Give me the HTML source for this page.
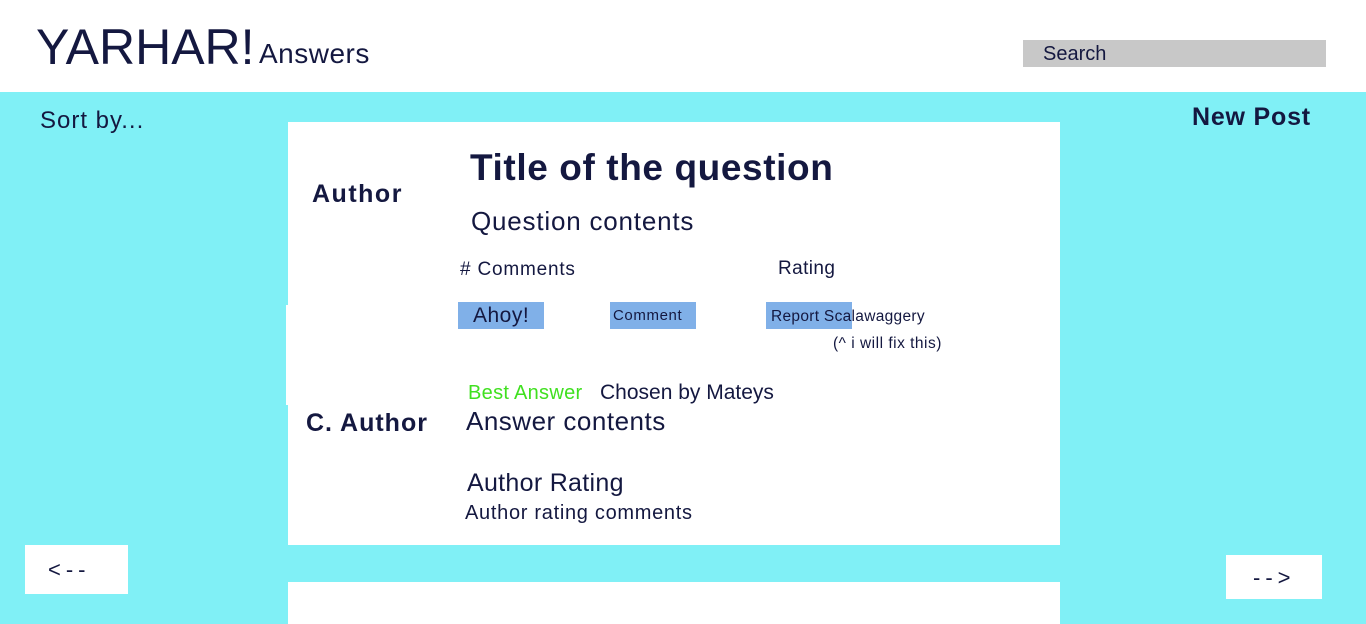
<!DOCTYPE html>
<html><head><style>
*{margin:0;padding:0}
body{width:1366px;height:624px;position:relative;overflow:hidden;background:#fff;font-family:"Liberation Sans",sans-serif;color:#141840}
div,span{position:absolute;white-space:nowrap}
.b{font-weight:bold}
</style></head><body>
<div style="left:0;top:92px;width:1366px;height:532px;background:#80f0f6"></div>
<div style="left:36px;top:18px;font-size:50px;line-height:58px">YARHAR!</div>
<div style="left:259px;top:37px;font-size:28px;line-height:34px;letter-spacing:0.5px">Answers</div>
<div style="left:1023px;top:40px;width:303px;height:27px;background:#c8c8c8"></div>
<div style="left:1043px;top:42px;font-size:20px;line-height:24px">Search</div>
<div style="left:40px;top:106px;font-size:24px;line-height:30px;letter-spacing:1px">Sort by...</div>
<div class="b" style="left:1192px;top:102px;font-size:25px;line-height:30px;letter-spacing:0.8px">New Post</div>
<div style="left:288px;top:122px;width:772px;height:423px;background:#fff"></div>
<div style="left:286px;top:305px;width:4px;height:100px;background:#fff"></div>
<div style="left:288px;top:582px;width:772px;height:42px;background:#fff"></div>
<div class="b" style="left:312px;top:179px;font-size:25px;line-height:30px;letter-spacing:1.5px">Author</div>
<div class="b" style="left:470px;top:147px;font-size:37px;line-height:42px;letter-spacing:0.6px">Title of the question</div>
<div style="left:471px;top:205px;font-size:26px;line-height:32px;letter-spacing:0.8px">Question contents</div>
<div style="left:460px;top:258px;font-size:19px;line-height:24px;letter-spacing:0.8px"># Comments</div>
<div style="left:778px;top:257px;font-size:19px;line-height:24px;letter-spacing:0.4px">Rating</div>
<div style="left:458px;top:302px;width:86px;height:27px;background:#80b0e8"></div>
<div style="left:473px;top:302px;font-size:21px;line-height:27px;letter-spacing:0.5px">Ahoy!</div>
<div style="left:610px;top:302px;width:86px;height:27px;background:#80b0e8"></div>
<div style="left:613px;top:306px;font-size:15px;line-height:20px;letter-spacing:0.6px">Comment</div>
<div style="left:766px;top:302px;width:86px;height:27px;background:#80b0e8"></div>
<div style="left:771px;top:307px;font-size:15.5px;line-height:20px;letter-spacing:0.3px">Report Scalawaggery</div>
<div style="left:833px;top:334px;font-size:15.5px;line-height:20px;letter-spacing:0.5px">(^ i will fix this)</div>
<div style="left:468px;top:380px;font-size:20px;line-height:26px;color:#40e020;letter-spacing:0.3px">Best Answer</div>
<div style="left:600px;top:380px;font-size:21px;line-height:26px">Chosen by Mateys</div>
<div class="b" style="left:306px;top:408px;font-size:25px;line-height:30px;letter-spacing:1px">C. Author</div>
<div style="left:466px;top:405px;font-size:26px;line-height:32px;letter-spacing:0.5px">Answer contents</div>
<div style="left:467px;top:468px;font-size:25px;line-height:30px;letter-spacing:0.3px">Author Rating</div>
<div style="left:465px;top:500px;font-size:20px;line-height:26px;letter-spacing:0.7px">Author rating comments</div>
<div style="left:25px;top:545px;width:103px;height:49px;background:#fff"></div>
<div style="left:48px;top:557px;font-size:22px;line-height:26px;letter-spacing:5px">&lt;--</div>
<div style="left:1226px;top:555px;width:96px;height:44px;background:#fff"></div>
<div style="left:1253px;top:565px;font-size:22px;line-height:26px;letter-spacing:5px">--&gt;</div>
</body></html>
